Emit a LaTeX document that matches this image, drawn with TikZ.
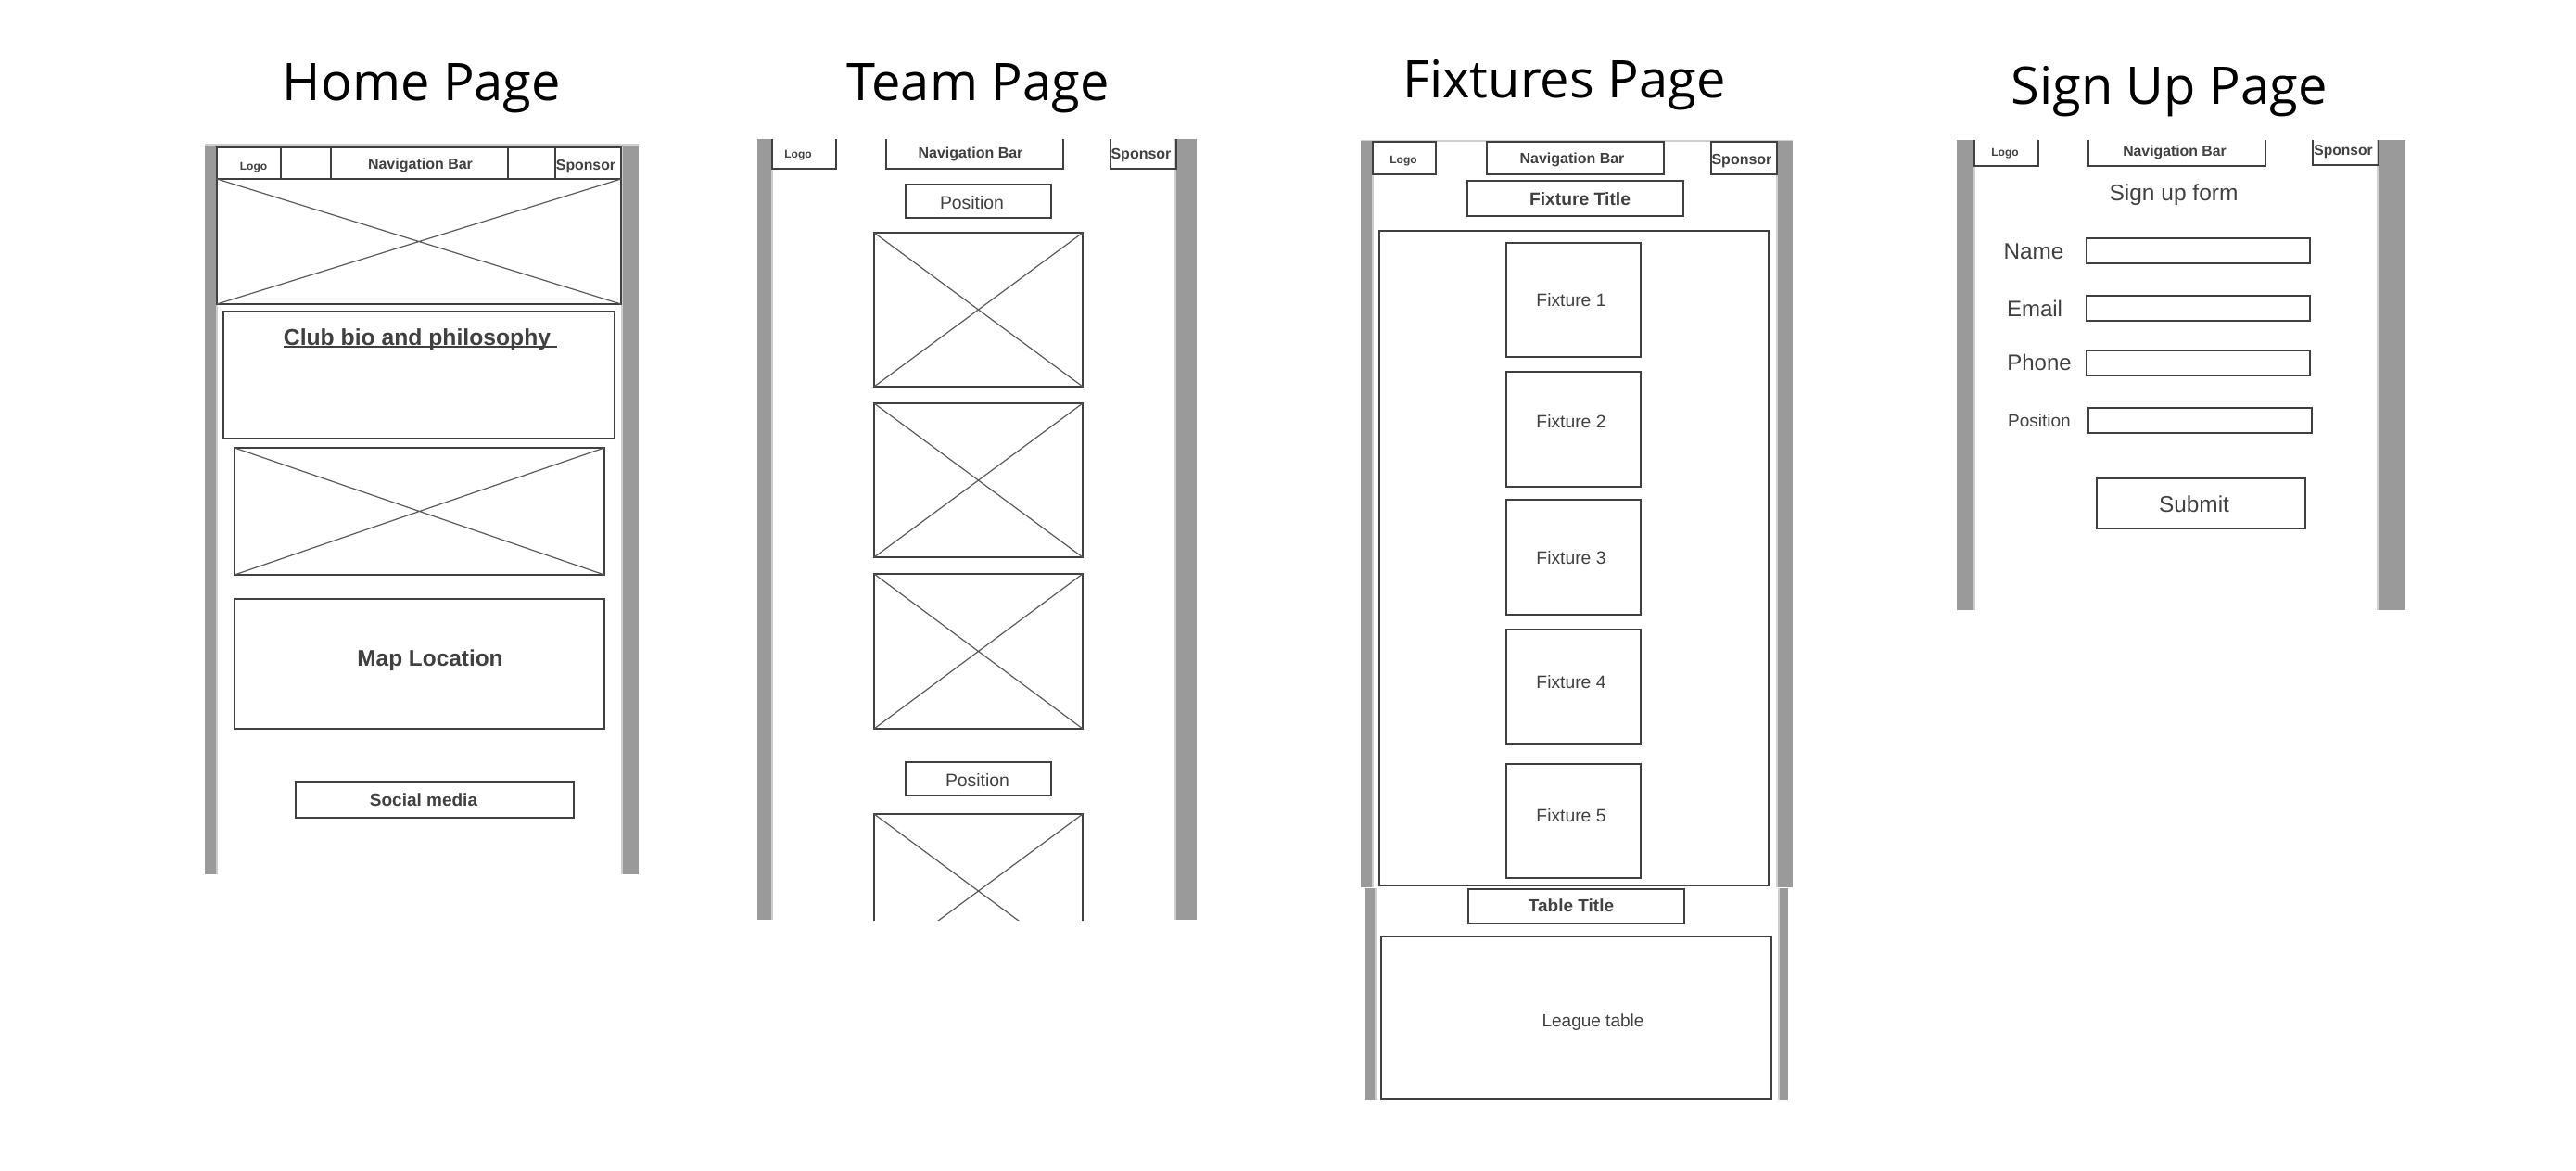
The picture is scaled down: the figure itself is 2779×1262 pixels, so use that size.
\documentclass[tikz,border=0pt]{standalone}
\usepackage{fontspec}
\setmainfont{Liberation Sans}
\newfontfamily\titlefont{Open Sans}
\definecolor{ink}{HTML}{404040}
\definecolor{cross}{HTML}{5A5A5A}
\definecolor{railgrey}{HTML}{9A9A9A}
\definecolor{railedge}{HTML}{CFCFCF}
\newcommand\fs[1]{\fontsize{#1}{#1}\selectfont}
% framed box by its corners: name, x1, y1, x2, y2
\newcommand\boxnode[6][]{%
  \node[frm,#1] (#2) at ({(#3+#5)/2},{(#4+#6)/2})
    [minimum width={(#5-#3)*1pt}, minimum height={(#6-#4)*1pt}] {};}
% image placeholder: framed box with both diagonals
\newcommand\imgnode[5]{%
  \boxnode{#1}{#2}{#3}{#4}{#5}%
  \draw[xln] (#1.north west) -- (#1.south east) (#1.north east) -- (#1.south west);}
% text set on its baseline: name, x, y, size, text
\newcommand\wtext[5]{\node[lbl,font=\fs{#4}] (#1) at (#2,#3) {#5};}
\newcommand\wbold[5]{\node[lbl,font=\fs{#4}\bfseries] (#1) at (#2,#3) {#5};}
\newcommand\wtitle[4]{\node[lbl,text=black,font=\titlefont\fs{56}] (#1) at (#2,#3) {#4};}
\begin{document}
\begin{tikzpicture}[x=1pt,y=-1pt,
  frm/.style={draw=ink,line width=2.6pt,inner sep=0pt,outer sep=0pt,rectangle},
  xln/.style={draw=cross,line width=1.2pt},
  lbl/.style={anchor=base,inner sep=0pt,outer sep=0pt,text=ink},
  rail/.style={fill=railgrey},
  edge/.style={draw=railedge,line width=1.2pt},
  openbox/.style={draw=ink,line width=2.6pt},
  ul/.style={draw=ink,line width=1.6pt}]
\useasboundingbox (0,0) rectangle (2779,1262);
\fill[white] (0,0) rectangle (2779,1262);

% ---------------- Home Page ----------------
\wtitle{thome}{455}{108}{Home Page}
\draw[edge] (221,156) -- (689,156);
\fill[rail] (221,158) rectangle (233,943);
\fill[rail] (672,158) rectangle (689,943);
\draw[edge] (234,158) -- (234,943);
\draw[edge] (671,158) -- (671,943);
\boxnode{hhead}{234}{159}{670}{193}
\draw[openbox] (303,159) -- (303,193) (357,159) -- (357,193)
               (548,159) -- (548,193) (599,159) -- (599,193);
\wbold{hlogo}{273.5}{183}{12}{Logo}
\wbold{hnav}{453.5}{182}{16}{Navigation Bar}
\wbold{hspon}{632}{183}{15.8}{Sponsor}
\imgnode{hhero}{234}{193}{670}{328}
\boxnode{hbio}{241}{336}{663}{473}
\wbold{hbiot}{450}{372}{24.7}{Club bio and philosophy}
\draw[ul] ([yshift=-2pt]hbiot.base west) -- ([xshift=7pt,yshift=-2pt]hbiot.base east);
\imgnode{himg}{253}{483}{652}{620}
\boxnode{hmap}{253}{646}{652}{786}
\wbold{hmapt}{464}{718}{24.4}{Map Location}
\boxnode{hsoc}{319}{843}{619}{882}
\wbold{hsoct}{457}{869}{19}{Social media}

% ---------------- Team Page ----------------
\wtitle{tteam}{1055}{108}{Team Page}
\fill[rail] (817,150) rectangle (832,992);
\fill[rail] (1269,150) rectangle (1291,992);
\draw[edge] (833,150) -- (833,992);
\draw[edge] (1268,150) -- (1268,992);
\draw[openbox] (833,150) |- (902,182) -- (902,150);
\draw[openbox] (956,150) |- (1147,182) -- (1147,150);
\draw[openbox] (1198,150) |- (1269,182) -- (1269,150);
\wbold{tlogo}{861}{170}{12}{Logo}
\wbold{tnav}{1047}{170}{16}{Navigation Bar}
\wbold{tspon}{1231}{171}{16}{Sponsor}
\boxnode{tpos1}{977}{199}{1134}{235}
\wtext{tpos1t}{1048.5}{225}{19.4}{Position}
\imgnode{timg1}{943}{251}{1168}{417}
\imgnode{timg2}{943}{435}{1168}{601}
\imgnode{timg3}{943}{619}{1168}{786}
\boxnode{tpos2}{977}{822}{1134}{858}
\wtext{tpos2t}{1054.5}{848}{19.4}{Position}
\begin{scope}
  \clip (900,860) rectangle (1210,992);
  \imgnode{timg4}{943}{878}{1168}{1044}
\end{scope}

% ---------------- Fixtures Page ----------------
\wtitle{tfix}{1687.5}{105}{Fixtures Page}
\draw[edge] (1468,152) -- (1934,152);
\fill[rail] (1468,152) rectangle (1480,957);
\fill[rail] (1918,152) rectangle (1934,957);
\fill[rail] (1473,958) rectangle (1483,1186);
\fill[rail] (1920,958) rectangle (1929,1186);
\draw[edge] (1481,152) -- (1481,957);
\draw[edge] (1917,152) -- (1917,957);
\draw[edge] (1484,958) -- (1484,1186);
\draw[edge] (1919,958) -- (1919,1186);
\boxnode{flogob}{1481}{153}{1549}{188}
\boxnode{fnavb}{1604}{153}{1795}{188}
\boxnode{fsponb}{1846}{153}{1917}{188}
\wbold{flogo}{1514}{176}{12}{Logo}
\wbold{fnav}{1696}{176}{16}{Navigation Bar}
\wbold{fspon}{1879}{177}{16}{Sponsor}
\boxnode{ftitle}{1583}{195}{1816}{233}
\wbold{ftitlet}{1704.5}{221}{19.3}{Fixture Title}
\boxnode{flist}{1488}{249}{1908}{955}
\boxnode{fx1}{1625}{262}{1770}{385}
\boxnode{fx2}{1625}{401}{1770}{525}
\boxnode{fx3}{1625}{539}{1770}{663}
\boxnode{fx4}{1625}{679}{1770}{802}
\boxnode{fx5}{1625}{824}{1770}{947}
\wtext{fx1t}{1695}{330}{19.3}{Fixture 1}
\wtext{fx2t}{1695}{461}{19.3}{Fixture 2}
\wtext{fx3t}{1695}{608}{19.3}{Fixture 3}
\wtext{fx4t}{1695}{742}{19.3}{Fixture 4}
\wtext{fx5t}{1695}{886}{19.3}{Fixture 5}
\boxnode{ftab}{1584}{959}{1817}{996}
\wbold{ftabt}{1695}{983}{19}{Table Title}
\boxnode{fleague}{1490}{1010}{1911}{1185}
\wtext{fleaguet}{1718.5}{1107}{19}{League table}

% ---------------- Sign Up Page ----------------
\wtitle{tsign}{2340}{112}{Sign Up Page}
\fill[rail] (2111,151) rectangle (2129,658);
\fill[rail] (2566,151) rectangle (2595,658);
\draw[edge] (2130,151) -- (2130,658);
\draw[edge] (2565,151) -- (2565,658);
\draw[openbox] (2130,151) |- (2199,179) -- (2199,151);
\draw[openbox] (2253,151) |- (2444,179) -- (2444,151);
\draw[openbox] (2495,151) |- (2566,178) -- (2566,151);
\wbold{slogo}{2163}{168}{12}{Logo}
\wbold{snav}{2346}{168}{15.8}{Navigation Bar}
\wbold{sspon}{2528}{167}{15.6}{Sponsor}
\wtext{sform}{2345}{216}{24.5}{Sign up form}
\wtext{sname}{2194}{279}{24.3}{Name}
\boxnode{snamef}{2251}{257}{2492}{284}
\wtext{smail}{2195}{341}{24}{Email}
\boxnode{smailf}{2251}{319}{2492}{346}
\wtext{sphone}{2200}{399}{24}{Phone}
\boxnode{sphonef}{2251}{378}{2492}{405}
\wtext{spos}{2200}{460}{19}{Position}
\boxnode{sposf}{2253}{440}{2494}{467}
\boxnode{ssub}{2262}{516}{2487}{570}
\wtext{ssubt}{2367}{552}{24.4}{Submit}
\end{tikzpicture}
\end{document}
